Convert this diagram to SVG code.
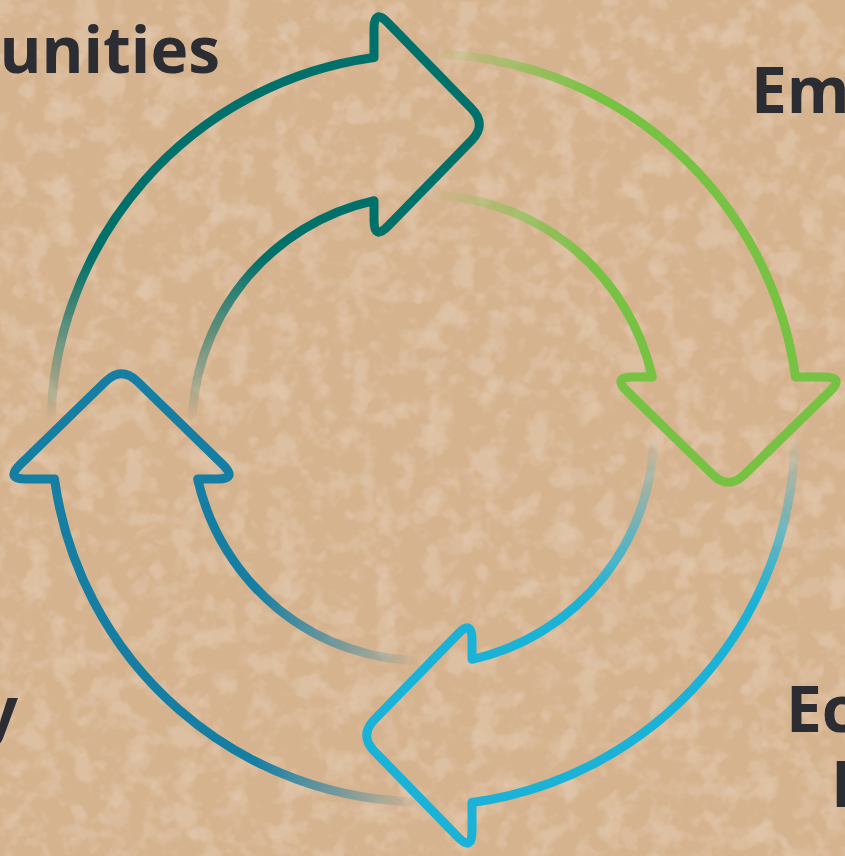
<svg xmlns="http://www.w3.org/2000/svg" width="845" height="856" viewBox="0 0 845 856">
<defs>
<style>
.lbl{font-family:"Open Sans","Liberation Sans",sans-serif;font-weight:700;font-size:64px;fill:#2c2d33}
.arw{fill:none;stroke-width:9;stroke-linejoin:round;stroke-linecap:round}
</style>
<filter id="texL" filterUnits="userSpaceOnUse" x="0" y="0" width="845" height="856">
<feTurbulence type="fractalNoise" baseFrequency="0.04" numOctaves="3" seed="4"/>
<feColorMatrix type="matrix" values="0 0 0 0 0.87  0 0 0 0 0.76  0 0 0 0 0.63  5 0 0 0 -2.5"/>
</filter>
<filter id="texD" filterUnits="userSpaceOnUse" x="0" y="0" width="845" height="856">
<feTurbulence type="fractalNoise" baseFrequency="0.045" numOctaves="3" seed="11"/>
<feColorMatrix type="matrix" values="0 0 0 0 0.78  0 0 0 0 0.62  0 0 0 0 0.48  -5 0 0 0 2.3"/>
</filter>
<linearGradient id="gTeal" gradientUnits="userSpaceOnUse" x1="0" y1="-5" x2="0" y2="-170">
<stop offset="0" stop-color="#00716a" stop-opacity="0"/><stop offset="1" stop-color="#00716a"/>
</linearGradient>
<linearGradient id="gGreen" gradientUnits="userSpaceOnUse" x1="0" y1="-5" x2="0" y2="-170">
<stop offset="0" stop-color="#77c243" stop-opacity="0"/><stop offset="1" stop-color="#77c243"/>
</linearGradient>
<linearGradient id="gCyan" gradientUnits="userSpaceOnUse" x1="0" y1="-5" x2="0" y2="-170">
<stop offset="0" stop-color="#1ab2d7" stop-opacity="0"/><stop offset="1" stop-color="#1ab2d7"/>
</linearGradient>
<linearGradient id="gBlue" gradientUnits="userSpaceOnUse" x1="0" y1="-5" x2="0" y2="-170">
<stop offset="0" stop-color="#167ea3" stop-opacity="0"/><stop offset="1" stop-color="#167ea3"/>
</linearGradient>
<path id="arrowShape" d="M -374 0 A 374 374 0 0 1 -51 -370.5 L -51 -399.5 Q -51 -419.5 -37 -405.2 L 46.6 -319.3 Q 62 -303.5 46.6 -287.7 L -37 -201.8 Q -51 -187.5 -51 -207.5 L -51 -227.35 A 233 233 0 0 0 -233 0"/>
</defs>
<g id="background">
<rect width="845" height="856" fill="#d6b38f"/>
<rect width="845" height="856" filter="url(#texL)" opacity="0.28"/>
<rect width="845" height="856" filter="url(#texD)" opacity="0.3"/>
</g>
<g id="connectors" transform="translate(425 428)">
<use id="arrow-communities" href="#arrowShape" class="arw" stroke="url(#gTeal)"/>
<use id="arrow-employment" href="#arrowShape" class="arw" stroke="url(#gGreen)" transform="rotate(90)"/>
<use id="arrow-economic" href="#arrowShape" class="arw" stroke="url(#gCyan)" transform="translate(-4 4) rotate(180)"/>
<use id="arrow-left" href="#arrowShape" class="arw" stroke="url(#gBlue)" transform="rotate(270)"/>
</g>
<g id="label-communities"><text class="lbl" x="220" y="73" text-anchor="end">unities</text></g>
<g id="label-employment"><text class="lbl" x="751" y="113">Em</text></g>
<g id="label-economic"><text class="lbl" x="786" y="732">Ec</text><text class="lbl" x="831" y="807">I</text></g>
<g id="label-left"><text class="lbl" x="18" y="733" text-anchor="end">y</text></g>
</svg>
